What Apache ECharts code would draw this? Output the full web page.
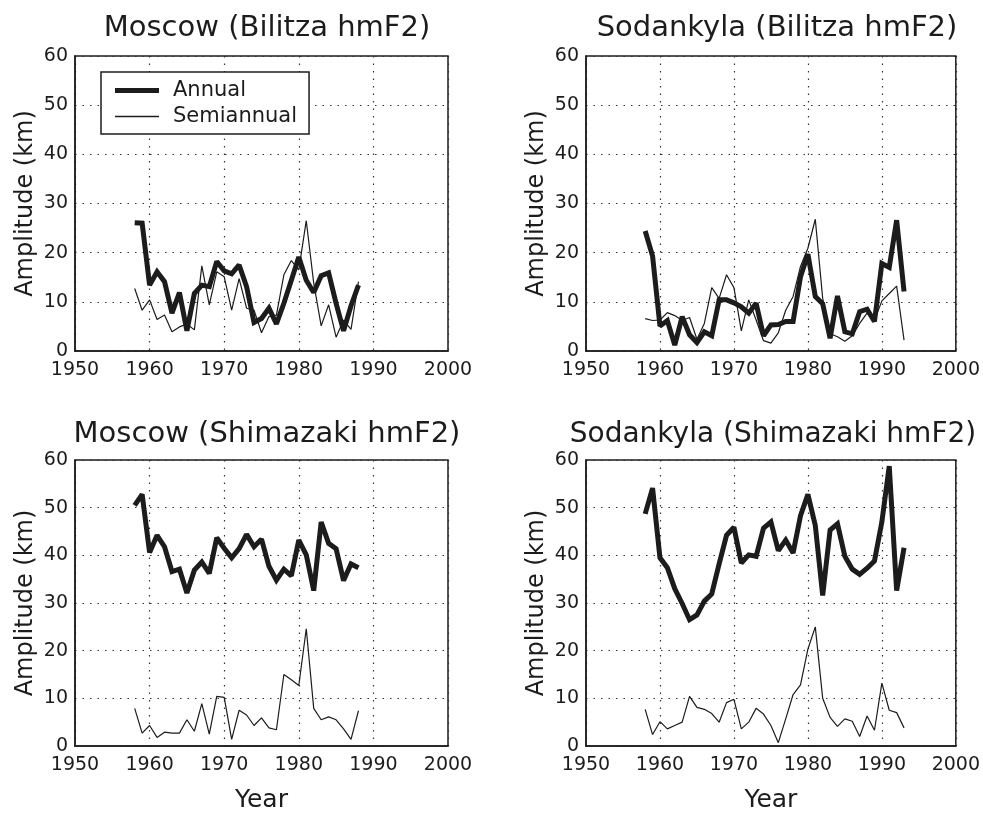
<!DOCTYPE html>
<html>
<head>
<meta charset="utf-8">
<script src="https://cdn.jsdelivr.net/npm/echarts@6/dist/echarts.min.js"></script>
<style>
  html, body { margin: 0; padding: 0; background: #fff; }
  #main { width: 983px; height: 814px; }
</style>
</head>
<body>
<div id="main"></div>
<script>
const moscowYears = [1958, 1959, 1960, 1961, 1962, 1963, 1964, 1965, 1966, 1967, 1968, 1969, 1970, 1971, 1972, 1973,
  1974, 1975, 1976, 1977, 1978, 1979, 1980, 1981, 1982, 1983, 1984, 1985, 1986, 1987, 1988]
const sodankylaYears = [1958, 1959, 1960, 1961, 1962, 1963, 1964, 1965, 1966, 1967, 1968, 1969, 1970, 1971, 1972, 1973,
  1974, 1975, 1976, 1977, 1978, 1979, 1980, 1981, 1982, 1983, 1984, 1985, 1986, 1987, 1988, 1989, 1990, 1991, 1992, 1993]

// Moscow, Bilitza hmF2
const moscowBilAnnual = [26.1, 26, 13.4, 16.1, 14.1, 7.7, 11.9, 4.1, 11.7, 13.4, 13.1, 18.2, 16.3, 15.7, 17.5, 13.1,
  5.8, 6.6, 8.7, 5.5, 9.7, 14.4, 19.1, 14.4, 11.9, 15.3, 15.9, 9.7, 4.1, 9.2, 13.4]
const moscowBilSemi = [12.7, 8.3, 10.4, 6.4, 7.3, 3.9, 4.9, 5.5, 4.3, 17.3, 9.4, 16.1, 15.1, 8.3, 14.7, 8.7,
  8.3, 3.7, 7.0, 7.3, 15.5, 18.4, 16.5, 26.5, 13.8, 5.1, 9.4, 2.8, 6.3, 4.4, 14.1]

// Sodankyla, Bilitza hmF2
const sodBilAnnual = [24.4, 19.3, 5.1, 6.2, 1.2, 7.0, 3.3, 1.7, 3.9, 3.1, 10.4, 10.4, 9.8, 9.0, 7.7, 9.7,
  3.1, 5.3, 5.4, 6.0, 6.0, 15.1, 19.7, 11.1, 9.6, 2.6, 11.2, 3.9, 3.5, 8.0, 8.5, 6.0, 17.8, 17.0, 26.6, 12.1]
const sodBilSemi = [6.6, 6.2, 6.3, 7.8, 7.2, 6.2, 6.8, 2.4, 5.6, 12.9, 10.7, 15.5, 12.9, 4.1, 10.4, 6.3,
  2.1, 1.6, 3.7, 8.3, 11.1, 17.2, 20.9, 26.8, 10.7, 3.5, 2.9, 2.0, 3.1, 5.6, 7.7, 6.2, 10.2, 11.7, 13.2, 2.2]

// Moscow, Shimazaki hmF2
const moscowShiAnnual = [50.5, 52.8, 40.6, 44.2, 41.8, 36.6, 37.1, 32.1, 36.9, 38.6, 36.2, 43.7, 41.5, 39.5, 41.4, 44.4,
  41.8, 43.4, 37.7, 34.8, 37.1, 35.7, 43.2, 40.1, 32.6, 47.0, 42.5, 41.4, 34.7, 38.2, 37.4]
const moscowShiSemi = [7.9, 2.7, 4.3, 1.8, 2.9, 2.7, 2.7, 5.5, 3.1, 8.9, 2.5, 10.4, 10.2, 1.4, 7.5, 6.5,
  4.3, 5.9, 3.8, 3.4, 15.0, 13.9, 12.7, 24.6, 7.9, 5.5, 6.1, 5.5, 3.6, 1.4, 7.4]

// Sodankyla, Shimazaki hmF2
const sodShiAnnual = [48.7, 54.1, 39.5, 37.4, 33.0, 29.9, 26.5, 27.5, 30.4, 31.9, 38.2, 44.2, 45.9, 38.4, 40.1, 39.8,
  45.7, 47.0, 41.0, 43.2, 40.5, 48.3, 52.8, 46.3, 31.6, 45.3, 46.6, 39.8, 37.1, 36.0, 37.3, 38.8, 47.0, 58.7, 32.6, 41.6]
const sodShiSemi = [7.7, 2.4, 5.1, 3.6, 4.3, 5.0, 10.4, 8.1, 7.7, 6.8, 5.0, 9.1, 9.8, 3.6, 5.0, 7.9,
  6.7, 4.3, 0.7, 5.7, 10.8, 12.8, 20.3, 25.0, 10.0, 6.0, 4.1, 5.7, 5.2, 2.0, 6.3, 3.3, 13.2, 7.5, 7.0, 3.8]

const titles = ["Moscow (Bilitza hmF2)", "Sodankyla (Bilitza hmF2)", "Moscow (Shimazaki hmF2)", "Sodankyla (Shimazaki hmF2)"]
const xTicks = [1950, 1960, 1970, 1980, 1990, 2000]
const yTicks = [0, 10, 20, 30, 40, 50, 60]

const panels = [
  { years: moscowYears, annual: moscowBilAnnual, semi: moscowBilSemi },
  { years: sodankylaYears, annual: sodBilAnnual, semi: sodBilSemi },
  { years: moscowYears, annual: moscowShiAnnual, semi: moscowShiSemi },
  { years: sodankylaYears, annual: sodShiAnnual, semi: sodShiSemi }
]

const font = "'DejaVu Sans', sans-serif"
const ink = "#1c1c1c"
const gridPos = [
  { left: 75, top: 56, width: 373, height: 295 },
  { left: 586, top: 56, width: 373, height: 295 },
  { left: 75, top: 460, width: 373, height: 293 },
  { left: 586, top: 460, width: 373, height: 293 }
]
// title centre x, top y, font size
const titlePos = [[262, 9, 29], [772, 9, 29], [262, 415, 29], [768, 416, 28]]

const chart = echarts.init(document.getElementById("main"), null, { renderer: "canvas" })

const pairs = (years, vals) => years.map((y, i) => [y, vals[i]])

chart.setOption({
  animation: false,
  backgroundColor: "#fff",
  title: titles.map((t, i) => ({
    text: t,
    left: titlePos[i][0],
    top: titlePos[i][1],
    textAlign: "center",
    textStyle: { fontFamily: font, fontSize: titlePos[i][2], fontWeight: "normal", color: ink }
  })),
  legend: {
    left: 101,
    top: 72,
    orient: "vertical",
    itemWidth: 44,
    itemHeight: 5,
    itemGap: 5,
    padding: [8, 12, 7, 14],
    borderColor: ink,
    borderWidth: 1.5,
    borderRadius: 0,
    backgroundColor: "#fff",
    textStyle: { fontFamily: font, fontSize: 21, color: ink, padding: [0, 0, 0, 9] },
    data: [
      { name: "Annual", icon: "rect", itemStyle: { color: ink } },
      { name: "Semiannual", icon: "path://M0,0H44V1.3H0Z", itemStyle: { color: ink } }
    ]
  },
  grid: gridPos.map(g => Object.assign({ show: true, borderColor: ink, borderWidth: 1.5, backgroundColor: "transparent" }, g)),
  xAxis: gridPos.map((g, i) => ({
    type: "value",
    gridIndex: i,
    min: xTicks[0],
    max: xTicks[xTicks.length - 1],
    interval: 10,
    name: i >= 2 ? "Year" : "",
    nameLocation: "middle",
    nameGap: 42,
    nameTextStyle: { fontFamily: font, fontSize: 25, color: ink },
    axisLine: { lineStyle: { color: ink, width: 1.5 } },
    axisTick: { show: false },
    axisLabel: { fontFamily: font, fontSize: 19, color: ink, margin: 10, formatter: v => String(v) },
    splitLine: { show: true, lineStyle: { color: "#333", width: 1.2, type: [1.5, 6] } }
  })),
  yAxis: gridPos.map((g, i) => ({
    type: "value",
    gridIndex: i,
    min: yTicks[0],
    max: yTicks[yTicks.length - 1],
    interval: 10,
    name: "Amplitude (km)",
    nameLocation: "middle",
    nameGap: 37,
    nameTextStyle: { fontFamily: font, fontSize: 24, color: ink },
    axisLine: { lineStyle: { color: ink, width: 1.5 } },
    axisTick: { show: false },
    axisLabel: { fontFamily: font, fontSize: 19, color: ink, margin: 7, formatter: v => String(v) },
    splitLine: { show: true, lineStyle: { color: "#333", width: 1.2, type: [1.5, 6] } }
  })),
  series: panels.flatMap((p, i) => [
    {
      name: "Semiannual",
      type: "line",
      xAxisIndex: i,
      yAxisIndex: i,
      symbol: "none",
      lineStyle: { color: ink, width: 1.2 },
      itemStyle: { color: ink },
      data: pairs(p.years, p.semi)
    },
    {
      name: "Annual",
      type: "line",
      xAxisIndex: i,
      yAxisIndex: i,
      symbol: "none",
      lineStyle: { color: ink, width: 5, join: "miter", miterLimit: 2 },
      itemStyle: { color: ink },
      data: pairs(p.years, p.annual)
    }
  ])
})
</script>
</body>
</html>
